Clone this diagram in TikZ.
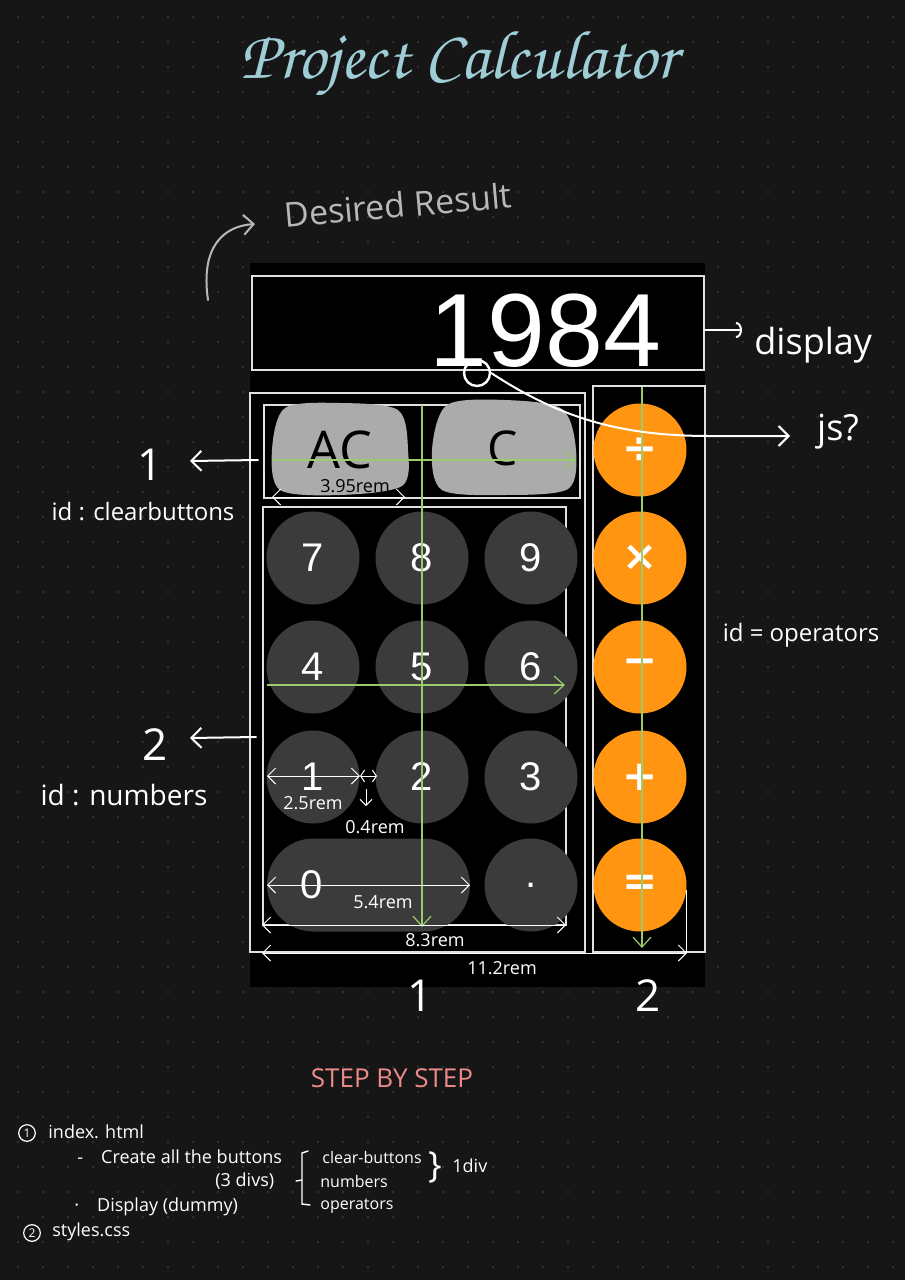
\documentclass[tikz,border=0pt]{standalone}
\usepackage{fontspec}
\usepackage{tkz-euclide}
\usetikzlibrary{arrows.meta,positioning}
\setmainfont{Open Sans}
\newfontfamily\keyfont{Liberation Sans}
\newfontfamily\symfont{DejaVu Sans}
\newfontfamily\titlefont{TeX Gyre Chorus}
\definecolor{paper}{HTML}{161616}
\definecolor{griddot}{HTML}{3A3A3A}
\definecolor{keygray}{HTML}{3B3B3B}
\definecolor{oporange}{HTML}{FF9510}
\definecolor{guidegreen}{HTML}{9ACB6E}
\definecolor{blobgray}{HTML}{ABABAB}
\definecolor{titleblue}{HTML}{9FCDD6}
\definecolor{steppink}{HTML}{EE8A8A}
\definecolor{resultgray}{HTML}{B8B8B8}
\tikzset{
	outline/.style={draw=white!88!black,line width=0.75pt,inner sep=0pt,outer sep=0pt},
	numkey/.style={circle,fill=keygray,minimum size=46.5pt,inner sep=0pt,text=white,font=\keyfont\fontsize{20}{20}\selectfont},
	opkey/.style={numkey,fill=oporange,font=\symfont\bfseries\fontsize{21}{21}\selectfont},
	blob/.style={fill=blobgray},
	guide/.style={draw=guidegreen,line width=0.6pt,-{Straight Barb[length=5pt,width=9pt]}},
	dimline/.style={draw=white,line width=0.5pt,{Straight Barb[length=4pt,width=8pt]}-{Straight Barb[length=4pt,width=8pt]}},
	penline/.style={draw=white,line width=1pt,line cap=round},
	pen/.style={text=white,inner sep=1pt},
	dimtext/.style={text=white,inner sep=1pt,font=\fontsize{9}{9}\selectfont},
	listtext/.style={text=white,anchor=west,inner sep=0pt,font=\fontsize{9}{9}\selectfont},
}

\begin{document}
\begin{tikzpicture}[x=0.5pt,y=-0.5pt]
		\fill[paper] (0,0) rectangle (905,1280);
		\useasboundingbox (0,0) rectangle (905,1280);
		\foreach \gx in {18,43,...,905}
			\foreach \gy in {17,42,...,1280}
				\fill[griddot] (\gx,\gy) circle (0.6pt);

		\node[text=titleblue,font=\titlefont\fontsize{34.5}{34.5}\selectfont] (title) at (459,64) {Project Calculator};
		\node[text=resultgray,rotate=5,font=\fontsize{17}{17}\selectfont] (result) at (398,205) {Desired Result};

		\fill[black] (250,263) rectangle (705,987);
		\node[outline,minimum width=226pt,minimum height=47pt] (display) at (478,323) {};
		\node[anchor=base east,text=white,font=\keyfont\fontsize{52}{52}\selectfont] (screen) at (668,366) {1984};
		\node[outline,minimum width=167.5pt,minimum height=279.5pt] (leftbox) at (417.5,672.5) {};
		\node[outline,minimum width=158pt,minimum height=46.5pt] (clearbox) at (422,451.5) {};
		\node[outline,minimum width=151.5pt,minimum height=209pt] (numbox) at (414.5,716) {};
		\node[outline,minimum width=56pt,minimum height=283pt] (opbox) at (649,669) {};

		\foreach \k/\x/\y in {7/313/558,8/422/558,9/531/558,4/313/667,5/422/667,6/531/667,1/313/777,2/422/777,3/531/777}
			\node[numkey] (key\k) at (\x,\y) {\k};
		\node[numkey,rectangle,rounded corners=23.25pt,minimum width=101.5pt] (key0) at (368.5,885) {};
		\node[pen,font=\keyfont\fontsize{20}{20}\selectfont] (zero) at ([xshift=22.5pt]key0.west) {0};
		\node[numkey] (keydot) at (531,885) {.};
		\foreach \s/\y [count=\i] in {÷/450,×/558,−/667,+/777,=/885}
			\node[opkey] (op\i) at (640,\y) {\s};

		\fill[blob] plot[smooth cycle] coordinates {(285,408) (340,403) (398,410) (408,450) (402,486) (340,495) (280,490) (272,450)};
		\fill[blob] plot[smooth cycle] coordinates {(447,405) (505,400) (562,409) (576,450) (568,489) (505,495) (442,490) (432,450)};
		\node[text=black,font=\fontsize{26}{26}\selectfont] (ac) at (340,450) {AC};
		\node[text=black,font=\fontsize{24}{24}\selectfont] (cl) at (503,448) {C};

		\tkzDefPoints{422/405/gA,422/927/gB,273/460/gC,576/460/gD,267/685/gE,565/685/gF,642/387/gG,642/948/gH}
		\draw[guide] (gA) -- (gB);
		\draw[guide] (gC) -- (gD);
		\draw[guide] (gE) -- (gF);
		\draw[guide] (gG) -- (gH);

		\tkzDefPoints{272/497/dA,405/497/dB,267/776/dC,360/776/dD,377/776/dE,366/789/dF,366/806/dG,267/885/dH,470/885/dI,262/925/dJ,566/925/dK,262/953/dL,687/953/dM,686/890/dN}
		\draw[dimline] (dA) -- (dB);
		\draw[dimline] (dC) -- (dD);
		\draw[dimline,{Straight Barb[length=2pt,width=6pt]}-{Straight Barb[length=2pt,width=6pt]}] (dD) -- (dE);
		\draw[dimline,-{Straight Barb[length=3pt,width=6pt]}] (dF) -- (dG);
		\draw[dimline] (dH) -- (dI);
		\draw[dimline] (dJ) -- (dK);
		\draw[dimline,-] (dN |- dL) -- (dN);
		\draw[dimline] (dL) -- (dM);
		\node[dimtext,text=black] (w1) at (355,486) {3.95rem};
		\node[dimtext] (w2) at (313,803) {2.5rem};
		\node[dimtext] (w3) at (375,827) {0.4rem};
		\node[dimtext] (w4) at (383,902) {5.4rem};
		\node[dimtext] (w5) at (435,940) {8.3rem};
		\node[dimtext] (w6) at (502,968) {11.2rem};

		\node[circle,draw=white,line width=1.2pt,minimum size=13pt,inner sep=0pt] (ring) at (477,373) {};
		\node[pen,anchor=west,font=\fontsize{18}{18}\selectfont] (displaylabel) at (752,345) {display};
		\node[pen,font=\fontsize{18}{18}\selectfont] (js) at (838,432) {js?};
		\node[pen,font=\fontsize{12}{12}\selectfont] (oplabel) at (801,635) {id = operators};
		\node[pen,font=\fontsize{22}{22}\selectfont] (one) at (150,465) {1};
		\node[pen,font=\fontsize{12}{12}\selectfont] (clearlabel) at (143,512) {id : clearbuttons};
		\node[pen,font=\fontsize{22}{22}\selectfont] (two) at (155,745) {2};
		\node[pen,font=\fontsize{14}{14}\selectfont] (numlabel) at (124,795) {id : numbers};
		\node[pen,font=\fontsize{22}{22}\selectfont] (colone) at (420,996) {1};
		\node[pen,font=\fontsize{22}{22}\selectfont] (coltwo) at (648,996) {2};

		\tkzDefPoints{705/330/dispA,742/330/dispB,258/460/clrA,190/461/clrB,256/737/numA,190/738/numB,710/436/jsA,790/436/jsB,208/300/resA,255/224/resB}
		\draw[penline,-{Arc Barb[length=3pt,width=8pt]}] (dispA) -- (dispB);
		\draw[penline,-{Straight Barb[length=5pt,width=10pt]}] (ring.east) .. controls (560,418) and (620,436) .. (jsA) -- (jsB);
		\draw[penline,-{Straight Barb[length=5pt,width=10pt]}] (clrA) -- (clrB);
		\draw[penline,-{Straight Barb[length=5pt,width=10pt]}] (numA) -- (numB);
		\draw[penline,draw=resultgray,-{Straight Barb[length=5pt,width=10pt]}] (resA) .. controls (200,245) and (225,226) .. (resB);

		\node[text=steppink,font=\fontsize{13}{13}\selectfont] (steps) at (392,1078) {STEP BY STEP};
		\node[circle,draw=white,line width=0.6pt,inner sep=1pt,text=white,font=\fontsize{6}{6}\selectfont] (c1) at (27,1133) {1};
		\node[listtext] (s1) at (48,1132) {index. html};
		\node[listtext] (s1a) at (77,1157) {-\quad Create all the buttons};
		\node[listtext] (s1b) at (215,1181) {(3 divs)};
		\node[listtext] (s1c) at (74,1207) {·\quad Display (dummy)};
		\node[circle,draw=white,line width=0.6pt,inner sep=1pt,text=white,font=\fontsize{6}{6}\selectfont] (c2) at (32,1233) {2};
		\node[listtext] (s2) at (52,1232) {styles.css};
		\draw[penline,line width=0.7pt] (308,1151) -- (302,1153) -- (302,1204) -- (310,1205);
		\draw[penline,line width=0.7pt] (302,1180) -- (296,1181);
		\node[listtext,font=\fontsize{8}{8}\selectfont] (b1) at (322,1157) {clear-buttons};
		\node[listtext,font=\fontsize{8}{8}\selectfont] (b2) at (320,1181) {numbers};
		\node[listtext,font=\fontsize{8}{8}\selectfont] (b3) at (320,1206) {operators};
		\node[pen,font=\fontsize{18}{18}\selectfont] (brace) at (435,1167) {\}};
		\node[listtext] (div) at (452,1166) {1div};
	\end{tikzpicture}
\end{document}
